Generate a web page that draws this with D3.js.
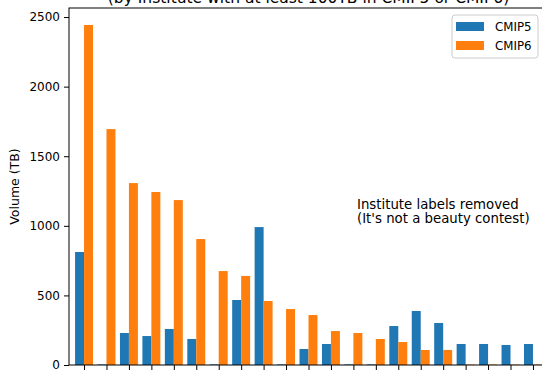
<!DOCTYPE html>
<html>
<head>
<meta charset="utf-8">
<script src="https://cdn.jsdelivr.net/npm/d3@7"></script>
<style>
  html, body { margin: 0; padding: 0; background: #fff; }
  svg { display: block; font-family: "DejaVu Sans", sans-serif; }
</style>
</head>
<body>
<svg id="chart" width="542" height="370"></svg>
<script>
// Per-institute archive volumes (TB); institute names intentionally withheld
const institutes = d3.range(21).map(i => "inst" + i);
const cmip5 = [812, 4, 230, 208, 259, 187, 4, 467, 991, 4, 115, 151, 4, 4, 280, 388, 302, 151, 151, 144, 151];
const cmip6 = [2443, 1695, 1307, 1243, 1185, 905, 675, 640, 460, 402, 359, 244, 230, 187, 165, 108, 108, 3, 3, 3, 3];
const seriesNames = ["CMIP5", "CMIP6"];
const yTicks = [0, 500, 1000, 1500, 2000, 2500];
const titleText = "(by Institute with at least 100TB in CMIP5 or CMIP6)";
const noteLines = ["Institute labels removed", "(It's not a beauty contest)"];

const colors = { CMIP5: "#1f77b4", CMIP6: "#ff7f0e" };

const svg = d3.select("#chart");
const plotL = 69, plotR = 548, plotT = 8, plotB = 365;

const x = d3.scaleLinear().domain([-0.67, institutes.length - 1 + 0.67]).range([plotL, plotR]);
const y = d3.scaleLinear().domain([0, 2565]).range([plotB, plotT]);
const barW = x(0.4) - x(0);

// bars: CMIP5 to the left of each tick, CMIP6 to the right
const g = svg.append("g");
g.selectAll("rect.c5").data(cmip5).join("rect")
  .attr("class", "c5")
  .attr("x", (d, i) => x(i) - barW)
  .attr("y", d => y(d))
  .attr("width", barW)
  .attr("height", d => y(0) - y(d))
  .attr("fill", colors.CMIP5);
g.selectAll("rect.c6").data(cmip6).join("rect")
  .attr("class", "c6")
  .attr("x", (d, i) => x(i))
  .attr("y", d => y(d))
  .attr("width", barW)
  .attr("height", d => y(0) - y(d))
  .attr("fill", colors.CMIP6);

// axes
const yAxis = d3.axisLeft(y).tickValues(yTicks).tickSize(5).tickPadding(4).tickFormat(d3.format("d"));
const yg = svg.append("g").attr("transform", `translate(${plotL},0)`).call(yAxis);
yg.select(".domain").remove();
yg.selectAll("text").attr("font-size", 12).attr("fill", "#000").attr("font-family", "DejaVu Sans");
yg.selectAll("line").attr("stroke", "#000");

const xAxis = d3.axisBottom(x).tickValues(d3.range(institutes.length)).tickSize(5).tickFormat("");
const xg = svg.append("g").attr("transform", `translate(0,${plotB})`).call(xAxis);
xg.select(".domain").remove();
xg.selectAll("line").attr("stroke", "#000");

// spines
svg.append("rect")
  .attr("x", plotL).attr("y", plotT)
  .attr("width", plotR - plotL).attr("height", plotB - plotT)
  .attr("fill", "none").attr("stroke", "#000").attr("stroke-width", 1);

// y label
svg.append("text")
  .attr("transform", `translate(19,${(plotT + plotB) / 2}) rotate(-90)`)
  .attr("text-anchor", "middle")
  .attr("font-size", 12.5)
  .text("Volume (TB)");

// title (second line of a two-line title, mostly above the frame)
svg.append("text")
  .attr("x", (plotL + plotR) / 2).attr("y", 2.5)
  .attr("text-anchor", "middle")
  .attr("font-size", 15.5)
  .text(titleText);

// note
const note = svg.append("text").attr("x", 357).attr("y", 209).attr("font-size", 13.3);
noteLines.forEach((t, i) => note.append("tspan").attr("x", 357).attr("dy", i ? 14 : 0).text(t));

// legend
const lg = svg.append("g");
lg.append("rect").attr("x", 452).attr("y", 15).attr("width", 86).attr("height", 43)
  .attr("rx", 3).attr("fill", "#fff").attr("fill-opacity", 0.8)
  .attr("stroke", "#ccc").attr("stroke-width", 1);
seriesNames.forEach((s, i) => {
  lg.append("rect").attr("x", 456).attr("y", 22 + i * 19).attr("width", 28).attr("height", 9).attr("fill", colors[s]);
  lg.append("text").attr("x", 495).attr("y", 31 + i * 19).attr("font-size", 11.8).text(s);
});
</script>
</body>
</html>
